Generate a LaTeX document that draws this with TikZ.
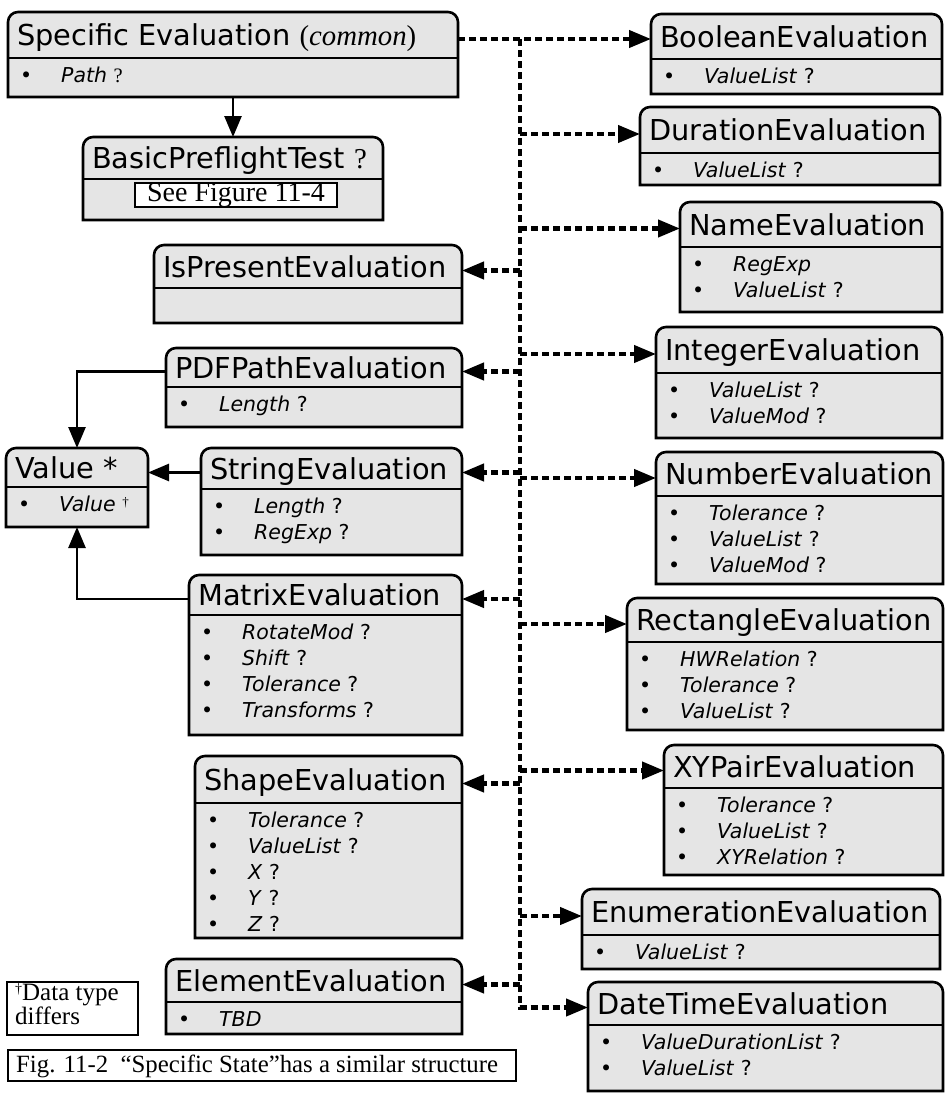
\documentclass[tikz,border=0pt]{standalone}
\usepackage{fontspec}
\usetikzlibrary{arrows.meta}
\newfontfamily\sansf{DejaVu Sans}
\newfontfamily\serf{Liberation Serif}
\definecolor{boxfill}{gray}{0.9}

\tikzset{
  boxline/.style={draw=black, line width=2.6pt, fill=boxfill},
  divline/.style={draw=black, line width=2.6pt},
  frame/.style={inner sep=0pt, outer sep=0pt, anchor=north west, draw=none},
  ttl/.style={inner sep=0pt, anchor=base west, font=\sansf\fontsize{28.8}{30}\selectfont},
  body/.style={inner sep=0pt, anchor=north west, font=\sansf\fontsize{20.5}{26}\selectfont},
  solidarrow/.style={line width=2.6pt, -{Triangle[length=21pt,width=17pt]}},
  dotarrow/.style={line width=4.2pt, dash pattern=on 7pt off 4pt, -{Triangle[length=22pt,width=17pt]}},
  notebox/.style={draw, line width=2.2pt, inner sep=0pt, anchor=north west},
  notetext/.style={inner sep=0pt, anchor=base west, align=left},
}

% class box: name, left, top, right, divider, bottom, title, attributes
\newcommand\umlbox[8]{%
  \draw[boxline] (#2,#6) -- (#2,{#3+10}) arc[start angle=180,end angle=90,radius=10pt]
    -- ({#4-10},#3) arc[start angle=90,end angle=0,radius=10pt] -- (#4,#6) -- cycle;
  \draw[divline] (#2,#5) -- (#4,#5);
  \node[frame, minimum width={(#4-#2)*1pt}, minimum height={(#6-#3)*1pt}] (#1) at (#2,#3) {};
  \coordinate (#1-w) at (#2,{(#3+#5)/2+4});
  \coordinate (#1-e) at (#4,{(#3+#5)/2+4});
  \node[ttl] (#1-t) at ({#2+9},{(#3+#5)/2+10.5}) {#7};
  \node[body] (#1-b) at ({#2+12},{#5+6}) {#8};
}
\newcommand\attrs[1]{\begin{tabular}{@{}p{41pt}@{}l@{}}#1\end{tabular}}
\newcommand\itm[2]{•&\textit{#1} #2\\}

\begin{document}
\begin{tikzpicture}[x=1pt,y=-1pt]
\useasboundingbox (0,0) rectangle (952,1095);

% left column
\umlbox{spec}{8}{12}{458}{58}{97}{Specific Evaluation {\serf(\textit{common})}}{\attrs{\itm{Path}{{\serf ?}}}}
\umlbox{basic}{83}{137}{383}{179}{220}{BasicPreflightTest {\serf ?}}{}
\node[draw, line width=1.8pt, fill=white, minimum width=202pt, minimum height=24pt, inner sep=0pt,
  font=\serf\fontsize{28}{28}\selectfont] (fig) at (236,195) {See Figure 11-4};
\umlbox{ispres}{154}{245}{462}{288}{323}{IsPresentEvaluation}{}
\umlbox{pdfp}{166}{348}{462}{387}{427}{PDFPathEvaluation}{\attrs{\itm{Length}{?}}}
\umlbox{value}{6}{448}{148}{487}{527}{Value *}{\attrs{•&\textit{Value} \raisebox{5pt}{\serf\fontsize{13}{13}\selectfont †}\\}}
\umlbox{string}{201}{448}{462}{489}{555}{StringEvaluation}{\attrs{\itm{Length}{?}\itm{RegExp}{?}}}
\umlbox{matrix}{189}{575}{462}{615}{735}{MatrixEvaluation}{\attrs{\itm{RotateMod}{?}\itm{Shift}{?}\itm{Tolerance}{?}\itm{Transforms}{?}}}
\umlbox{shape}{195}{756}{462}{803}{938}{ShapeEvaluation}{\attrs{\itm{Tolerance}{?}\itm{ValueList}{?}\itm{X}{?}\itm{Y}{?}\itm{Z}{?}}}
\umlbox{elem}{166}{959}{462}{1002}{1034}{ElementEvaluation}{\attrs{\itm{TBD}{}}}

% right column
\umlbox{bool}{651}{14}{942}{59}{94}{BooleanEvaluation}{\attrs{\itm{ValueList}{?}}}
\umlbox{dur}{640}{107}{940}{153}{185}{DurationEvaluation}{\attrs{\itm{ValueList}{?}}}
\umlbox{name}{680}{202}{942}{247}{312}{NameEvaluation}{\attrs{\itm{RegExp}{}\itm{ValueList}{?}}}
\umlbox{int}{656}{327}{942}{373}{438}{IntegerEvaluation}{\attrs{\itm{ValueList}{?}\itm{ValueMod}{?}}}
\umlbox{num}{656}{452}{943}{496}{584}{NumberEvaluation}{\attrs{\itm{Tolerance}{?}\itm{ValueList}{?}\itm{ValueMod}{?}}}
\umlbox{rect}{627}{598}{943}{642}{730}{RectangleEvaluation}{\attrs{\itm{HWRelation}{?}\itm{Tolerance}{?}\itm{ValueList}{?}}}
\umlbox{xy}{664}{745}{943}{788}{875}{XYPairEvaluation}{\attrs{\itm{Tolerance}{?}\itm{ValueList}{?}\itm{XYRelation}{?}}}
\umlbox{enum}{582}{889}{940}{935}{969}{EnumerationEvaluation}{\attrs{\itm{ValueList}{?}}}
\umlbox{dt}{588}{982}{943}{1025}{1091}{DateTimeEvaluation}{\attrs{\itm{ValueDurationList}{?}\itm{ValueList}{?}}}

% notes
\node[notebox, minimum width=131pt, minimum height=53pt] (note) at (6,981) {};
\node[notetext, font=\serf\fontsize{25}{21}\selectfont] (notetxt) at (15,1024)
  {\raisebox{7pt}{\fontsize{14}{14}\selectfont †}Data type\\differs};
\node[notebox, minimum width=508pt, minimum height=31pt] (caption) at (7,1049) {};
\node[notetext, font=\serf\fontsize{24.8}{26}\selectfont] (captxt) at (16,1072)
  {Fig. 11-2\ \ “Specific State”has a similar structure};

% solid connectors
\draw[solidarrow] (spec.south) -- (basic.north);
\draw[solidarrow] (pdfp-w) -| (value.north);
\draw[solidarrow] (string-w) -- (value.east |- string-w);
\draw[solidarrow] (matrix-w) -| (value.south);

% dashed connectors
\coordinate (bus) at (520,39);
\draw[dotarrow] (spec-e) -- (bool-w |- spec-e);
\draw[dotarrow] (bus) -- (bus |- dt-w) -- (dt-w);
\foreach \b in {dur,name,int,num,rect,xy,enum}
  \draw[dotarrow] (bus |- \b-w) -- (\b-w);
\foreach \b in {ispres,pdfp,string,matrix,shape,elem}
  \draw[dotarrow] (bus |- \b-e) -- (\b-e);
\end{tikzpicture}
\end{document}
